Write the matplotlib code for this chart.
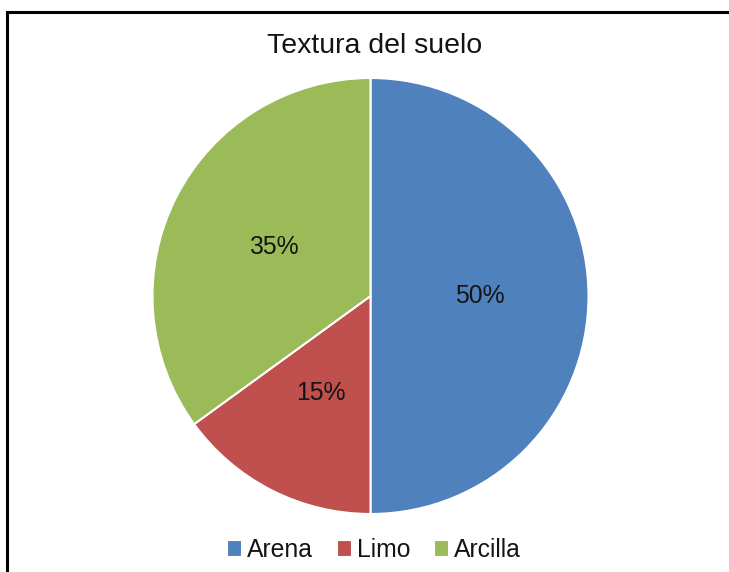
import matplotlib.pyplot as plt
from matplotlib.patches import Rectangle

plt.rcParams['font.family'] = ['Liberation Sans', 'DejaVu Sans']

# Textura del suelo
labels = ['Arena', 'Limo', 'Arcilla']
percents = [50, 15, 35]
colors = ['#4F81BD', '#C0504D', '#9BBB59']

W, H = 729, 572
fig = plt.figure(figsize=(W / 100, H / 100), dpi=100)
fig.patch.set_facecolor('white')

# square axes holding the pie, radius ~218 px
cx, cy, r = 370.5, 296, 218
ax = fig.add_axes([(cx - r) / W, (H - cy - r) / H, 2 * r / W, 2 * r / H])
wedges, texts, autotexts = ax.pie(
    percents, colors=colors, startangle=90, counterclock=False,
    autopct='%1.0f%%', pctdistance=0.5,
    wedgeprops=dict(edgecolor='white', linewidth=1.5),
    textprops=dict(fontsize=17.8, color='#141414'))
ax.set_xlim(-1, 1)
ax.set_ylim(-1, 1)
ax.set_aspect('equal')

fig.text(375 / W, 1 - 53 / H, 'Textura del suelo', ha='center', va='baseline',
         fontsize=20.5, color='#141414')

fig.legend(wedges, labels, loc='center', bbox_to_anchor=(374 / W, 1 - 550 / H),
           ncol=3, frameon=False, fontsize=17.8, handlelength=0.62, handleheight=0.72,
           handletextpad=0.2, columnspacing=0.95, labelcolor='#141414')

# outer frame
fig.patches.append(Rectangle((6.5 / W, -0.05), 1.0, 1 - 11.5 / H + 0.05,
                             transform=fig.transFigure, fill=False,
                             edgecolor='black', linewidth=2.2))

fig.savefig('out.png', dpi=100)
